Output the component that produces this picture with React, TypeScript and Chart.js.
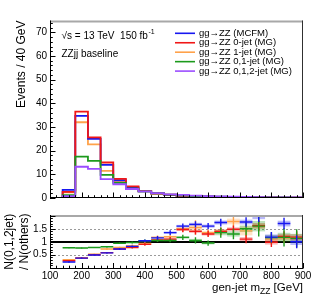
import React, { useEffect, useRef } from "react";
import { Chart, registerables } from "chart.js";

Chart.register(...registerables);

const FONT = '"Liberation Sans", Arial, Helvetica, sans-serif';

// ---------- data ----------
const binEdges = [100, 140, 180, 220, 260, 300, 340, 380, 420, 460, 500, 540, 580, 620, 660, 700, 740, 780, 820, 860, 900];
const ratioCenters = [160, 200, 240, 280, 320, 360, 400, 440, 480, 520, 560, 600, 640, 680, 720, 760, 800, 840, 880];

const seriesLabels = [
  "gg\u2192ZZ (MCFM)",
  "gg\u2192ZZ 0-jet (MG)",
  "gg\u2192ZZ 1-jet (MG)",
  "gg\u2192ZZ 0,1-jet (MG)",
  "gg\u2192ZZ 0,1,2-jet (MG)",
];
const seriesColors = ["#1717f0", "#f01717", "#ffa24a", "#1c9a1c", "#9b4dff"];

// events per 40 GeV bin (100-140 ... 860-900)
const mcfm = [0, 3.4, 34.7, 25.0, 14.0, 7.5, 4.5, 2.8, 2.0, 1.3, 1.0, 0.8, 0.6, 0.5, 0.4, 0.35, 0.3, 0.25, 0.2, 0.2];
const jet0 = [0, 2.6, 36.5, 25.6, 15.0, 8.1, 4.9, 3.0, 2.0, 1.4, 1.0, 0.8, 0.6, 0.45, 0.4, 0.3, 0.25, 0.22, 0.2, 0.15];
const jet1 = [0, 2.4, 32.0, 22.7, 11.5, 7.0, 4.2, 2.8, 1.8, 1.3, 1.0, 0.8, 0.6, 0.45, 0.35, 0.3, 0.25, 0.22, 0.2, 0.18];
const jet01 = [0, 1.2, 17.5, 15.7, 9.8, 6.4, 4.0, 2.8, 2.0, 1.4, 1.1, 0.85, 0.7, 0.55, 0.45, 0.4, 0.3, 0.25, 0.22, 0.2];
const jet012 = [0, 0.8, 13.2, 12.3, 8.0, 5.8, 3.8, 2.8, 2.1, 1.5, 1.3, 1.0, 0.8, 0.65, 0.55, 0.45, 0.35, 0.3, 0.27, 0.22];

// ratio N(0,1,2-jet) / N(other)
const ratioMcfm = [0.22, 0.37, 0.49, 0.57, 0.72, 0.82, 1.04, 1.15, 1.35, 1.6, 1.67, 1.6, 1.74, null, 1.76, 1.98, 1.18, 1.7, 1.0];
const ratioJet0 = [0.27, 0.37, 0.5, 0.58, 0.72, 0.78, 0.9, 1.07, 1.1, 1.47, 1.4, 1.3, 1.4, 1.48, 1.1, 1.62, 0.98, 1.2, 1.18];
const ratioJet1 = [0.31, 0.38, 0.52, 0.72, 0.78, 0.85, 0.93, 1.17, 1.19, 1.5, 1.55, 1.35, 1.4, 1.78, 1.42, 1.6, 1.1, 1.15, 1.12];
const ratioJet01 = [0.77, 0.76, 0.78, 0.81, 0.94, 0.97, 1.04, 1.05, 1.05, 1.17, 1.05, 0.95, 1.35, 1.3, 1.5, 1.6, 1.16, 1.17, 1.13];

const errMcfm = [0.03, 0.02, 0.02, 0.02, 0.03, 0.04, 0.05, 0.07, 0.09, 0.1, 0.12, 0.12, 0.15, 0, 0.18, 0.22, 0.2, 0.22, 0.25];
const errJet0 = [0.03, 0.02, 0.02, 0.02, 0.03, 0.04, 0.05, 0.06, 0.08, 0.1, 0.12, 0.12, 0.14, 0.15, 0.16, 0.2, 0.18, 0.2, 0.22];
const errJet1 = [0.03, 0.02, 0.02, 0.03, 0.03, 0.04, 0.05, 0.07, 0.08, 0.12, 0.28, 0.12, 0.15, 0.22, 0.35, 0.2, 0.2, 0.2, 0.2];
const errJet01 = [0.02, 0.02, 0.02, 0.03, 0.03, 0.04, 0.05, 0.06, 0.07, 0.1, 0.12, 0.1, 0.2, 0.2, 0.25, 0.4, 0.2, 0.35, 0.35];

const topYTicks = [0, 10, 20, 30, 40, 50, 60, 70];
const ratioYTicks = [0.5, 1, 1.5];
const xTicks = [100, 200, 300, 400, 500, 600, 700, 800, 900];

// ---------- helpers ----------
function stepPoints(vals: number[]) {
  const pts = vals.map((v, i) => ({ x: binEdges[i], y: v }));
  pts.push({ x: binEdges[binEdges.length - 1], y: vals[vals.length - 1] });
  return pts;
}

function line(ctx: CanvasRenderingContext2D, x1: number, y1: number, x2: number, y2: number) {
  ctx.beginPath();
  ctx.moveTo(x1, y1);
  ctx.lineTo(x2, y2);
  ctx.stroke();
}

function framePlugin(yMinor: number, yMajor: number) {
  return {
    id: "rootFrame",
    afterDraw(chart: any) {
      const { ctx, chartArea: a, scales } = chart;
      const xs = scales.x;
      const ys = scales.y;
      ctx.save();
      // top border (gray, thick)
      ctx.strokeStyle = "#a8a8a8";
      ctx.lineWidth = 2;
      line(ctx, a.left, a.top + 1, a.right, a.top + 1);
      // right border
      ctx.strokeStyle = "#303030";
      ctx.lineWidth = 1;
      line(ctx, Math.round(a.right) - 0.5, a.top, Math.round(a.right) - 0.5, a.bottom);
      // axes
      ctx.strokeStyle = "#000";
      line(ctx, Math.round(a.left) + 0.5, a.top, Math.round(a.left) + 0.5, a.bottom);
      line(ctx, a.left, Math.round(a.bottom) - 0.5, a.right, Math.round(a.bottom) - 0.5);
      // x ticks
      for (let v = xs.min; v <= xs.max + 1e-6; v += 20) {
        const px = Math.round(xs.getPixelForValue(v)) + 0.5;
        const major = Math.abs(v % 100) < 1e-6;
        const len = major ? 5.5 : 2.8;
        line(ctx, px, a.bottom, px, a.bottom - len);
      }
      // y ticks
      const y0 = Math.ceil(ys.min / yMinor - 1e-6) * yMinor;
      for (let v = y0; v <= ys.max + 1e-9; v += yMinor) {
        const py = Math.round(ys.getPixelForValue(v)) + 0.5;
        const r = v / yMajor;
        const major = Math.abs(r - Math.round(r)) < 1e-6;
        const len = major ? 5.5 : 2.8;
        line(ctx, a.left, py, a.left + len, py);
      }
      ctx.restore();
    },
  };
}

const topLegendPlugin = {
  id: "topLegend",
  afterDraw(chart: any) {
    const { ctx } = chart;
    ctx.save();
    const ds = chart.data.datasets;
    ctx.font = `9.5px ${FONT}`;
    ctx.textBaseline = "middle";
    ctx.textAlign = "left";
    for (let i = 0; i < ds.length; i++) {
      const yy = 33.3 + i * 9.45;
      ctx.strokeStyle = ds[i].borderColor;
      ctx.lineWidth = 1.6;
      line(ctx, 175, yy, 195, yy);
      ctx.fillStyle = "#000";
      ctx.fillText(ds[i].label, 199, yy);
    }
    // annotations
    ctx.fillStyle = "#000";
    ctx.textBaseline = "alphabetic";
    ctx.font = `10px ${FONT}`;
    const s = "\u221As = 13 TeV  150 fb";
    ctx.fillText(s, 61.5, 38.5);
    const w = ctx.measureText(s).width;
    ctx.font = `7px ${FONT}`;
    ctx.fillText("-1", 61.5 + w + 0.5, 34);
    ctx.font = `10px ${FONT}`;
    ctx.fillText("ZZjj baseline", 61.5, 56.5);
    ctx.restore();
  },
};

const ratioPlugin = {
  id: "ratioMarks",
  beforeDatasetsDraw(chart: any) {
    const { ctx, chartArea: a, scales } = chart;
    const ys = scales.y;
    ctx.save();
    ctx.strokeStyle = "#9a9a9a";
    ctx.lineWidth = 1;
    ctx.setLineDash([2, 2]);
    [0.5, 1.5].forEach((v) => {
      const py = Math.round(ys.getPixelForValue(v)) + 0.5;
      line(ctx, a.left, py, a.right, py);
    });
    ctx.setLineDash([]);
    ctx.strokeStyle = "#000";
    ctx.lineWidth = 2;
    const p1 = Math.round(ys.getPixelForValue(1));
    line(ctx, a.left, p1, a.right, p1);
    ctx.restore();
  },
  afterDatasetsDraw(chart: any) {
    const { ctx, chartArea: a, scales } = chart;
    const xs = scales.x;
    const ys = scales.y;
    ctx.save();
    ctx.beginPath();
    ctx.rect(a.left, a.top, a.right - a.left, a.bottom - a.top);
    ctx.clip();
    const ds = chart.data.datasets;
    // bands
    ds.forEach((d: any) => {
      ctx.fillStyle = d.bandColor;
      d.data.forEach((p: any, i: number) => {
        if (p.y == null) return;
        const e = Math.max(d.errs[i] * 0.5, 0.02);
        const xl = xs.getPixelForValue(p.x - 20);
        const xr = xs.getPixelForValue(p.x + 20);
        const yt = ys.getPixelForValue(p.y + e);
        const yb = ys.getPixelForValue(p.y - e);
        ctx.fillRect(xl, yt, xr - xl, yb - yt);
      });
    });
    // crosses
    ds.forEach((d: any) => {
      ctx.strokeStyle = d.lineColor;
      ctx.lineWidth = 1.4;
      d.data.forEach((p: any, i: number) => {
        if (p.y == null) return;
        const xl = xs.getPixelForValue(p.x - 20);
        const xr = xs.getPixelForValue(p.x + 20);
        const xc = xs.getPixelForValue(p.x);
        const yc = ys.getPixelForValue(p.y);
        line(ctx, xl, yc, xr, yc);
        if (d.errs[i] > 0) {
          line(ctx, xc, ys.getPixelForValue(p.y + d.errs[i]), xc, ys.getPixelForValue(p.y - d.errs[i]));
        }
      });
    });
    ctx.restore();
  },
};

function hexA(hex: string, a: number) {
  const n = parseInt(hex.slice(1), 16);
  return `rgba(${(n >> 16) & 255},${(n >> 8) & 255},${n & 255},${a})`;
}

export default function App() {
  const topRef = useRef<HTMLCanvasElement | null>(null);
  const botRef = useRef<HTMLCanvasElement | null>(null);

  useEffect(() => {
    Chart.defaults.font.family = FONT;
    Chart.defaults.color = "#000";
    const topSeries = [mcfm, jet0, jet1, jet01, jet012];
    const orders = [3, 2, 4, 1, 0];
    const top = new Chart(topRef.current as HTMLCanvasElement, {
      type: "line",
      data: {
        datasets: topSeries.map((vals, i) => ({
          label: seriesLabels[i],
          data: stepPoints(vals),
          borderColor: seriesColors[i],
          borderWidth: 1.8,
          pointRadius: 0,
          fill: false,
          stepped: "before" as const,
          order: orders[i],
        })),
      },
      options: {
        responsive: false,
        animation: false,
        layout: { padding: { top: 20.5, right: 13, bottom: 1.5, left: 0 } },
        plugins: { legend: { display: false }, tooltip: { enabled: false } },
        scales: {
          x: { type: "linear", min: 100, max: 900, display: false },
          y: {
            type: "linear",
            min: 0,
            max: 75,
            afterBuildTicks: (s: any) => {
              s.ticks = topYTicks.map((v) => ({ value: v }));
            },
            afterFit: (s: any) => {
              s.width = 50;
            },
            grid: { display: false, drawTicks: false },
            border: { display: false },
            ticks: { font: { size: 10, family: FONT }, color: "#000", padding: 3 },
            title: {
              display: true,
              text: "Events / 40 GeV",
              align: "end",
              color: "#000",
              font: { size: 12, family: FONT, lineHeight: 1.25 },
              padding: { top: 14.5, bottom: 0 },
            },
          },
        },
      },
      plugins: [framePlugin(2, 10), topLegendPlugin],
    } as any);

    const ratioSeries = [ratioJet1, ratioJet0, ratioJet01, ratioMcfm];
    const ratioErrs = [errJet1, errJet0, errJet01, errMcfm];
    const ratioColorIdx = [2, 1, 3, 0];
    const bot = new Chart(botRef.current as HTMLCanvasElement, {
      type: "scatter",
      data: {
        datasets: ratioSeries.map((vals, k) => ({
          label: seriesLabels[ratioColorIdx[k]],
          data: vals.map((v, i) => ({ x: ratioCenters[i], y: v })),
          errs: ratioErrs[k],
          lineColor: seriesColors[ratioColorIdx[k]],
          bandColor: hexA(seriesColors[ratioColorIdx[k]], 0.3),
          pointRadius: 0,
          showLine: false,
        })),
      },
      options: {
        responsive: false,
        animation: false,
        layout: { padding: { top: 5, right: 13, bottom: 0, left: 0 } },
        plugins: { legend: { display: false }, tooltip: { enabled: false } },
        scales: {
          x: {
            type: "linear",
            min: 100,
            max: 900,
            afterBuildTicks: (s: any) => {
              s.ticks = xTicks.map((v) => ({ value: v }));
            },
            afterFit: (s: any) => {
              s.height = 34.5;
            },
            grid: { display: false, drawTicks: false },
            border: { display: false },
            ticks: { font: { size: 10, family: FONT }, color: "#000", padding: 2, maxRotation: 0, autoSkip: false },
          },
          y: {
            type: "linear",
            min: -0.03,
            max: 2.03,
            afterBuildTicks: (s: any) => {
              s.ticks = ratioYTicks.map((v) => ({ value: v }));
            },
            afterFit: (s: any) => {
              s.width = 50;
            },
            grid: { display: false, drawTicks: false },
            border: { display: false },
            ticks: { font: { size: 10, family: FONT }, color: "#000", padding: 3, callback: (v: any) => String(v) },
            title: {
              display: true,
              text: ["N(0,1,2jet)", "/ N(others)"],
              align: "center",
              color: "#000",
              font: { size: 12, family: FONT, lineHeight: 1.25 },
              padding: { top: 2.5, bottom: 0 },
            },
          },
        },
      },
      plugins: [
        ratioPlugin,
        framePlugin(0.1, 0.5),
        {
          id: "xTitle",
          afterDraw(chart: any) {
            const { ctx, chartArea: a } = chart;
            ctx.save();
            ctx.fillStyle = "#000";
            ctx.textBaseline = "alphabetic";
            ctx.textAlign = "left";
            ctx.font = `11.5px ${FONT}`;
            const p1 = "gen-jet m";
            const p3 = " [GeV]";
            const w1 = ctx.measureText(p1).width;
            const w3 = ctx.measureText(p3).width;
            ctx.font = `8.5px ${FONT}`;
            const w2 = ctx.measureText("ZZ").width;
            const x0 = a.right - (w1 + w2 + w3);
            const base = 85;
            ctx.font = `11.5px ${FONT}`;
            ctx.fillText(p1, x0, base);
            ctx.fillText(p3, x0 + w1 + w2, base);
            ctx.font = `8.5px ${FONT}`;
            ctx.fillText("ZZ", x0 + w1, base + 3);
            ctx.restore();
          },
        },
      ],
    } as any);

    return () => {
      top.destroy();
      bot.destroy();
    };
  }, []);

  return (
    <div style={{ position: "absolute", left: 0, top: 0, width: 316, height: 303, background: "#fff" }}>
      <canvas ref={topRef} width={316} height={207} style={{ position: "absolute", left: 0, top: 0 }} />
      <canvas ref={botRef} width={316} height={97} style={{ position: "absolute", left: 0, top: 206 }} />
    </div>
  );
}
